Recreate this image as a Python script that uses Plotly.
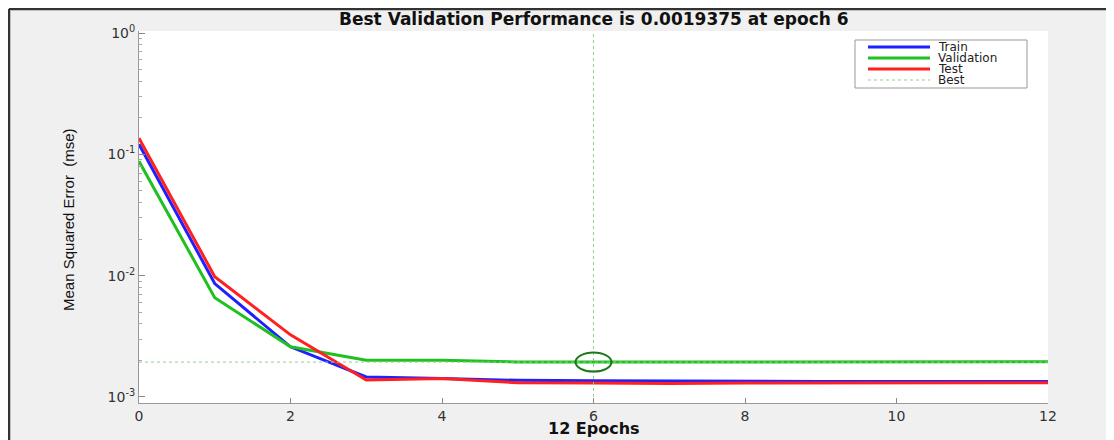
import math
import plotly.graph_objects as go

epochs = list(range(13))
train = [0.121, 0.0086, 0.00259, 0.00146, 0.00142, 0.00137, 0.00136, 0.00135, 0.00135, 0.00134, 0.00134, 0.00134, 0.00134]
validation = [0.0875, 0.00658, 0.00259, 0.00201, 0.00201, 0.00194, 0.0019375, 0.00194, 0.00194, 0.00194, 0.00195, 0.00195, 0.00195]
test = [0.136, 0.0098, 0.00325, 0.00138, 0.00142, 0.00131, 0.0013, 0.00129, 0.0013, 0.0013, 0.00131, 0.00131, 0.00131]
best_epoch = 6
best_perf = 0.0019375
series_names = ["Train", "Validation", "Test", "Best"]

x_ticks = [0, 2, 4, 6, 8, 10, 12]
y_ticks = [1e-3, 1e-2, 1e-1, 1e0]
y_ticktext = ["10<sup>-3</sup>", "10<sup>-2</sup>", "10<sup>-1</sup>", "10<sup>0</sup>"]
y_minor = [m * 10 ** k for k in (-3, -2, -1) for m in range(2, 10)]

ylog_range = [-3.05, 0.0165]

# figure geometry (page is offset by the 8px body margin)
W, H = 1106, 432
ML, MR, MT, MB = 131, 66, 23, 37
PW, PH = W - ML - MR, H - MT - MB


def px(xp):
    return (xp - ML) / PW


def py(yp):
    return (H - MB - yp) / PH


colors = ["#1f1fff", "#20c020", "#ff2020", "#8fd08f"]
widths = [3, 3, 3, 1]
dashes = ["solid", "solid", "solid", "dot"]

wide = "DejaVu Sans, Verdana, sans-serif"

fig = go.Figure()
for name, vals, c, w, d in zip(series_names[:3], [train, validation, test], colors, widths, dashes):
    fig.add_trace(go.Scatter(x=epochs, y=vals, mode="lines", name=name,
                             line=dict(color=c, width=w, dash=d)))
ylo, yhi = 10 ** ylog_range[0], 10 ** ylog_range[1]
fig.add_trace(go.Scatter(x=[epochs[0], epochs[-1], None, best_epoch, best_epoch],
                         y=[best_perf, best_perf, None, ylo, yhi],
                         mode="lines", name=series_names[3],
                         line=dict(color=colors[3], width=1, dash="dot")))

# ellipse around the best point (anchored on the y axis via its fractional position)
best_frac = (math.log10(best_perf) - ylog_range[0]) / (ylog_range[1] - ylog_range[0])
fig.add_shape(type="circle", xref="x", yref="paper", xsizemode="pixel", ysizemode="pixel",
              xanchor=best_epoch, yanchor=best_frac, x0=-18, x1=18, y0=-9.5, y1=9.5,
              line=dict(color="#1a7a1a", width=2))

# figure window border
fig.add_shape(type="line", xref="paper", yref="paper", x0=px(1), x1=px(W + 5), y0=py(1), y1=py(1),
              line=dict(color="#333333", width=2.5))
fig.add_shape(type="line", xref="paper", yref="paper", x0=px(1), x1=px(1), y0=py(1), y1=py(H + 5),
              line=dict(color="#333333", width=2.5))

# legend box (drawn manually for compact MATLAB-like spacing)
LX0, LX1, LY0, LY1 = 847, 1019, 32, 80
fig.add_shape(type="rect", xref="paper", yref="paper", x0=px(LX0), x1=px(LX1), y0=py(LY1), y1=py(LY0),
              fillcolor="white", line=dict(color="#999999", width=1))
annotations = []
for i, (name, c, w, d) in enumerate(zip(series_names, colors, widths, dashes)):
    yy = 39 + 11 * i
    fig.add_shape(type="line", xref="paper", yref="paper", x0=px(860), x1=px(922), y0=py(yy), y1=py(yy),
                  line=dict(color=c, width=w, dash=d))
    annotations.append(dict(text=name, xref="paper", yref="paper", x=px(928), y=py(yy),
                            xanchor="left", yanchor="middle", showarrow=False,
                            font=dict(family=wide, size=12, color="#222")))

annotations += [
    dict(text="<b>12 Epochs</b>", xref="paper", yref="paper", x=0.5, y=py(420),
         xanchor="center", yanchor="middle", showarrow=False,
         font=dict(family=wide, size=16, color="#111")),
    dict(text="Mean Squared Error  (mse)", xref="paper", yref="paper", x=px(60),
         y=py(212), xanchor="center", yanchor="middle", textangle=-90,
         showarrow=False, font=dict(size=15, color="#111",
                                    family="Liberation Sans Narrow, Arial Narrow, Liberation Sans, sans-serif")),
    dict(text="<b>Best Validation Performance is 0.0019375 at epoch 6</b>", xref="paper", yref="paper",
         x=0.5, y=py(11), xanchor="center", yanchor="middle", showarrow=False,
         font=dict(family=wide, size=17, color="#111")),
]

fig.update_layout(
    width=W, height=H,
    margin=dict(l=ML, r=MR, t=MT, b=MB),
    paper_bgcolor="#f0f0f0", plot_bgcolor="white",
    font=dict(family=wide, size=13, color="#222"),
    showlegend=False,
    annotations=annotations,
)
fig.update_xaxes(range=[0, 12], tickvals=x_ticks, ticks="inside", ticklen=5, tickcolor="#888",
                 showline=True, linecolor="#999", linewidth=1, showgrid=False, zeroline=False,
                 tickfont=dict(family=wide, size=14, color="#333"))
fig.update_yaxes(type="log", range=ylog_range, tickvals=y_ticks, ticktext=y_ticktext,
                 ticks="inside", ticklen=6, tickcolor="#888",
                 minor=dict(tickvals=y_minor, ticks="inside", ticklen=3, tickcolor="#aaa"),
                 showline=True, linecolor="#999", linewidth=1, showgrid=False, zeroline=False,
                 tickfont=dict(family=wide, size=14, color="#333"))

fig.write_html("out.html")
